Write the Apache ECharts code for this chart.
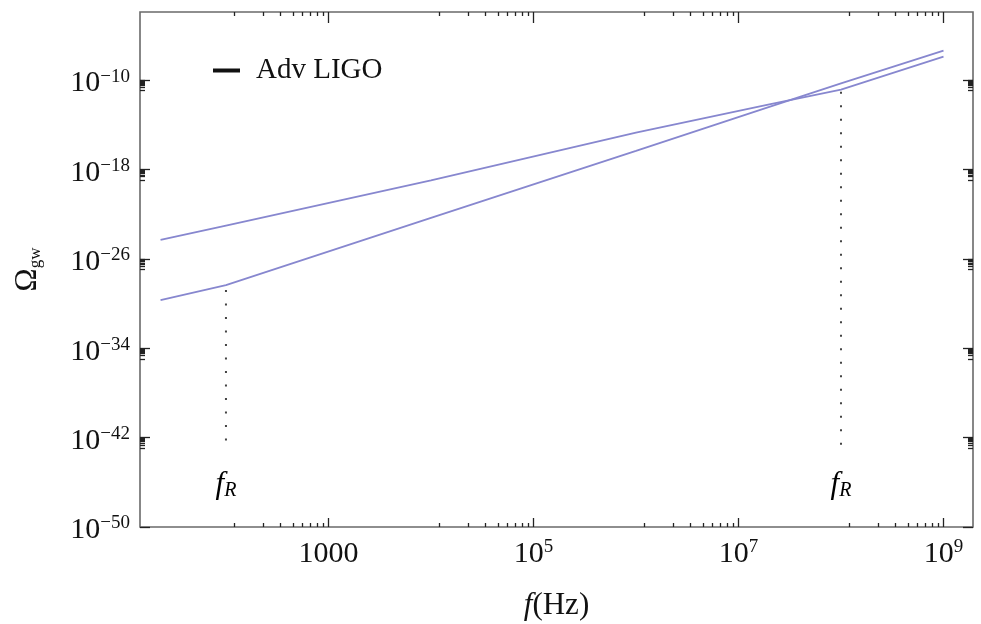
<!DOCTYPE html>
<html><head><meta charset="utf-8">
<script src="https://cdn.jsdelivr.net/npm/echarts@6/dist/echarts.min.js"></script>
<style>html,body{margin:0;padding:0;background:#fff}#c{width:981px;height:624px}</style>
</head><body><div id="c"></div>
<script>
// ---- data (frequencies in Hz, Omega_gw dimensionless) ----
const freqHz      = [23, 100, 1e4, 1e6, 2e7, 1e8, 1e9];
const omegaFlat   = [4.9e-25, 9.3e-24, 1.05e-19, 2.0e-15, 6.6e-13, 1.4e-11, 1.23e-8];
const omegaSteep  = [2.0e-30, 4.5e-29, 4.7e-23, 4.5e-17, 4.0e-13, 5.0e-11, 4.3e-8];
const fR          = [100, 1e8];
const fRTopOmega  = [1.6e-29, 8.9e-12];
const fRBottomOmega = 1.5e-43;
const fRLabelOmega  = 5.5e-47;
const xRangeHz    = [14.5, 1.94e9];
const yRangeOmega = [1e-50, 1.23e-4];
const xMajorAll   = [10, 1e3, 1e5, 1e7, 1e9];
const yMajorAll   = [1e-50, 1e-42, 1e-34, 1e-26, 1e-18, 1e-10];
const legendName  = 'Adv LIGO';

// ---- helpers ----
const L = v => Math.log10(v);
const FONT = "'Liberation Serif','Times New Roman',serif";
const TXT = '#111';
const xMin = L(xRangeHz[0]), xMax = L(xRangeHz[1]);
const yMin = L(yRangeOmega[0]), yMax = L(yRangeOmega[1]);
const xMajor = xMajorAll.map(L).filter(v => v >= xMin && v <= xMax);
const yMajor = yMajorAll.map(L);
const xMinor = [];
for (let i = 0; i < xMajorAll.length - 1; i++) {
  const a = xMajorAll[i], b = xMajorAll[i + 1];
  for (let j = 1; j <= 8; j++) { const v = L(a + j * (b - a) / 9); if (v >= xMin && v <= xMax) xMinor.push(v); }
}
const yMinor = [];
for (let i = 0; i < yMajorAll.length - 1; i++) {
  const a = yMajorAll[i], b = yMajorAll[i + 1];
  for (let j = 1; j <= 8; j++) { const v = L(a + j * (b - a) / 9); if (v >= yMin && v <= yMax) yMinor.push(v); }
}
const rich = {
  b: { fontSize: 30, fontFamily: FONT, color: TXT, lineHeight: 33 },
  s: { fontSize: 19, fontFamily: FONT, color: TXT, verticalAlign: 'top' }
};
const xFmt = v => { const e = Math.round(v); return e === 3 ? '{b|1000}' : '{b|10}{s|' + e + '}'; };
const yFmt = v => { const e = Math.round(v); return '{b|10}{s|\u2212' + Math.abs(e) + '}'; };
const tickLine = { color: '#222', width: 1.3 };

function xAx(pos, vals, len, labels) {
  return {
    type: 'value', position: pos, min: xMin, max: xMax, gridIndex: 0,
    axisLine: { show: false }, splitLine: { show: false },
    axisTick: { show: true, inside: true, length: len, customValues: vals, lineStyle: tickLine },
    axisLabel: labels ? { show: true, customValues: vals, formatter: xFmt, rich: rich, margin: 11 } : { show: false },
    name: labels ? '{i|f}{n|(Hz)}' : '', nameLocation: 'middle', nameGap: 63,
    nameTextStyle: { rich: {
      i: { fontSize: 31, fontFamily: FONT, fontStyle: 'italic', color: TXT },
      n: { fontSize: 31, fontFamily: FONT, color: TXT } } }
  };
}
function yAx(pos, vals, len, labels) {
  return {
    type: 'value', position: pos, min: yMin, max: yMax, gridIndex: 0,
    axisLine: { show: false }, splitLine: { show: false },
    axisTick: { show: true, inside: true, length: len, customValues: vals, lineStyle: tickLine },
    axisLabel: labels ? { show: true, customValues: vals, formatter: yFmt, rich: rich, margin: 10, padding: [7, 0, 0, 0] } : { show: false },
    name: labels ? '{o|\u03A9}{g|gw}' : '', nameLocation: 'middle', nameRotate: 90, nameGap: 96,
    nameTextStyle: { rich: {
      o: { fontSize: 31, fontFamily: FONT, color: TXT, lineHeight: 32 },
      g: { fontSize: 17, fontFamily: FONT, color: TXT, verticalAlign: 'bottom' } } }
  };
}

const lineColor = '#8787cf';
const mk = arr => freqHz.map((f, i) => [L(f), L(arr[i])]);

const option = {
  animation: false,
  backgroundColor: '#fff',
  grid: { left: 140, top: 12, right: 8, bottom: 97, show: true, borderColor: '#6a6a6a', borderWidth: 1.6,
          backgroundColor: 'transparent', containLabel: false, outerBoundsMode: 'none' },
  xAxis: [ xAx('bottom', xMajor, 9, true), xAx('bottom', xMinor, 4, false), xAx('top', xMajor, 11, false), xAx('top', xMinor, 4, false) ],
  yAxis: [ yAx('left', yMajor, 10, true), yAx('left', yMinor, 5, false), yAx('right', yMajor, 10, false), yAx('right', yMinor, 5, false) ],
  legend: {
    data: [{ name: legendName, icon: 'rect' }], left: 213, top: 56, padding: 0,
    itemWidth: 27, itemHeight: 4, selectedMode: false,
    textStyle: { fontSize: 29, fontFamily: FONT, color: TXT, padding: [0, 0, 0, 11] }
  },
  series: [
    { name: legendName, type: 'line', data: [], color: '#111', lineStyle: { color: '#111' } },
    { name: 'flat', type: 'line', data: mk(omegaFlat), showSymbol: false, symbol: 'none',
      lineStyle: { color: lineColor, width: 1.8 }, z: 3 },
    { name: 'steep', type: 'line', data: mk(omegaSteep), showSymbol: false, symbol: 'none',
      lineStyle: { color: lineColor, width: 1.8 }, z: 3 },
    ...fR.map((f, i) => ({
      name: 'fR' + i, type: 'line', symbol: 'none',
      data: [[L(f), L(fRTopOmega[i])], [L(f), L(fRBottomOmega)]],
      lineStyle: { color: '#444', width: 2, type: [2, 11.5] }, z: 2
    })),
    { name: 'fRlabels', type: 'scatter', symbolSize: 1, itemStyle: { color: 'transparent' },
      data: fR.map(f => [L(f), L(fRLabelOmega)]),
      label: { show: true, position: 'inside', color: '#000', opacity: 1, formatter: '{f|f}{r|R}', rich: {
        f: { fontSize: 31, fontFamily: FONT, fontStyle: 'italic', color: '#000', lineHeight: 32 },
        r: { fontSize: 20, fontFamily: FONT, fontStyle: 'italic', color: '#000', verticalAlign: 'bottom' } } } }
  ]
};
const chart = echarts.init(document.getElementById('c'), null, { renderer: 'canvas' });
chart.setOption(option);
</script></body></html>
